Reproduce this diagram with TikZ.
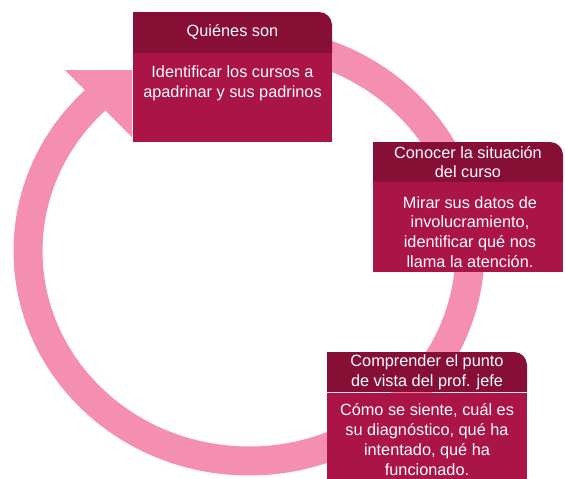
\documentclass[tikz,border=0pt]{standalone}
\usepackage{fontspec}
\setmainfont{Liberation Sans}
\definecolor{ringpink}{HTML}{F48FB1}
\definecolor{hdr}{HTML}{870F36}
\definecolor{bdy}{HTML}{AB1446}
\begin{document}
\begin{tikzpicture}[x=1pt,y=-1pt,
  ring/.style={draw=ringpink,line width=29pt},
  hdrfill/.style={fill=hdr},
  bdyfill/.style={fill=bdy},
  txt/.style={align=center,text=white,inner sep=0pt,font=\fontsize{16.3}{19.8}\selectfont}]
\useasboundingbox (0,0) rectangle (565,479);
% circular arrow
\draw[ring] (249,251) ++(226:221 and 210) arc[start angle=226,end angle=-100,x radius=221,y radius=210];
\fill[ringpink] (65,70) -- (132,70) -- (132,137) -- cycle;
% box A
\path[hdrfill] (133,53) -- (133,12) -- (319,12) arc[start angle=-90,end angle=0,radius=13] -- (332,53) -- cycle;
\path[bdyfill] (133,53) rectangle (332,142);
\node[txt] (ha) at (232.5,32) {Quiénes son};
\node[txt] (ba) at (232.5,83) {Identificar los cursos a\\apadrinar y sus padrinos};
% box B
\path[hdrfill] (373,182) -- (373,142) -- (550,142) arc[start angle=-90,end angle=0,radius=13] -- (563,182) -- cycle;
\path[bdyfill] (373,182) rectangle (563,272);
\node[txt] (hb) at (468,162) {Conocer la situación\\del curso};
\node[txt] (bb) at (470,232) {Mirar sus datos de\\involucramiento,\\identificar qué nos\\llama la atención.};
% box C
\path[hdrfill] (327,392) -- (327,352) -- (514,352) arc[start angle=-90,end angle=0,radius=13] -- (527,392) -- cycle;
\path[bdyfill] (327,393) rectangle (527,479);
\node[txt] (hc) at (427,372) {Comprender el punto\\de vista del prof. jefe};
\node[txt] (bc) at (427,439.5) {Cómo se siente, cuál es\\su diagnóstico, qué ha\\intentado, qué ha\\funcionado.};
\end{tikzpicture}
\end{document}
